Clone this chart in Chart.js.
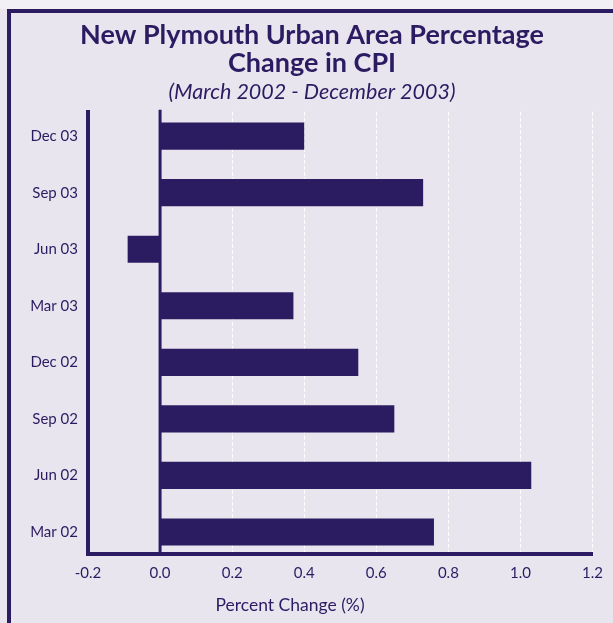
<!DOCTYPE html>
<html>
<head>
<meta charset="utf-8">
<script src="https://cdn.jsdelivr.net/npm/chart.js@4.4.0/dist/chart.umd.min.js"></script>
<style>
  html, body { margin: 0; padding: 0; }
  body { width: 613px; height: 623px; background: #e9e5ef; position: relative; overflow: hidden; }
  #strip { position: absolute; left: 0; top: 0; width: 613px; height: 9px; background: #f2f0f4; }
  #frame {
    position: absolute; left: 7px; top: 9px; width: 606px; height: 614px;
    box-sizing: border-box; border-top: 4px solid #2b1c62; border-left: 4px solid #2b1c62;
    background: #e9e5ef;
  }
  #cpi { display: block; }
</style>
</head>
<body>
<div id="strip"></div>
<div id="frame">
  <canvas id="cpi" width="602" height="610"></canvas>
</div>
<script>
// quarters, oldest first (Mar 02 sits at the bottom of the axis)
var quarters = ['Mar 02', 'Jun 02', 'Sep 02', 'Dec 02', 'Mar 03', 'Jun 03', 'Sep 03', 'Dec 03'];
var cpiChange = [0.76, 1.03, 0.65, 0.55, 0.37, -0.09, 0.73, 0.40];
var xTicks = [-0.2, 0.0, 0.2, 0.4, 0.6, 0.8, 1.0, 1.2];

var purple = '#2b1c62';
var font = 'Lato, "Open Sans", sans-serif';

// solid line at zero plus the axis caption
var zeroLine = {
    id: 'zeroLine',
    afterDatasetsDraw: function (chart) {
        var ctx = chart.ctx;
        var area = chart.chartArea;
        var x = chart.scales.x.getPixelForValue(0);
        ctx.save();
        ctx.strokeStyle = purple;
        ctx.lineWidth = 3;
        ctx.beginPath();
        ctx.moveTo(x, area.top - 2);
        ctx.lineTo(x, area.bottom);
        ctx.stroke();

        ctx.fillStyle = purple;
        ctx.font = '17.5px ' + font;
        ctx.textAlign = 'center';
        ctx.textBaseline = 'middle';
        ctx.fillText('Percent Change (%)', area.left + 202, area.bottom + 51);
        ctx.restore();
    }
};

var ctx = document.getElementById('cpi').getContext('2d');
var cpiChart = new Chart(ctx, {
    type: 'bar',
    data: {
        datasets: [{
            label: 'CPI change',
            data: cpiChange.map(function (v, i) { return { x: v, y: i }; }),
            backgroundColor: purple,
            borderWidth: 0,
            barPercentage: 0.48,
            categoryPercentage: 1
        }]
    },
    options: {
        indexAxis: 'y',
        responsive: false,
        animation: false,
        layout: { padding: 0 },
        plugins: {
            legend: { display: false },
            tooltip: { enabled: false },
            title: {
                display: true,
                text: ['New Plymouth Urban Area Percentage', 'Change in CPI'],
                color: purple,
                font: { family: font, size: 27, weight: 'bold', lineHeight: 28 / 27 },
                padding: { top: 8, bottom: 0 }
            },
            subtitle: {
                display: true,
                text: '(March 2002 - December 2003)',
                color: purple,
                font: { family: font, size: 21.5, style: 'italic', lineHeight: 1.2 },
                padding: { top: 2, bottom: 7 }
            }
        },
        scales: {
            x: {
                type: 'linear',
                min: -0.2,
                max: 1.2,
                afterFit: function (s) { s.height = 69; },
                afterBuildTicks: function (s) {
                    s.ticks = xTicks.map(function (v) { return { value: v }; });
                },
                ticks: {
                    color: purple,
                    font: { family: font, size: 15 },
                    padding: 10,
                    callback: function (v) { return Number(v).toFixed(1); }
                },
                grid: {
                    drawTicks: false,
                    lineWidth: 1,
                    color: function (c) {
                        var v = c.tick ? c.tick.value : 0;
                        return v > 0.01 ? 'rgba(255,255,255,0.95)' : 'rgba(0,0,0,0)';
                    }
                },
                border: { display: true, width: 4, color: purple, dash: [4, 2] }
            },
            y: {
                type: 'linear',
                offset: false,
                min: -0.39,
                max: 7.43,
                afterFit: function (s) { s.width = 77; },
                afterBuildTicks: function (s) {
                    s.ticks = quarters.map(function (q, i) { return { value: i }; });
                },
                ticks: {
                    color: purple,
                    font: { family: font, size: 15 },
                    padding: 10,
                    callback: function (v) { return quarters[v]; }
                },
                grid: { display: false, drawTicks: false },
                border: { display: true, width: 4, color: purple }
            },
            // empty right-hand strip so the plot stops short of the frame edge
            gutter: {
                type: 'linear',
                axis: 'y',
                position: 'right',
                display: true,
                afterFit: function (s) { s.width = 17; },
                ticks: { display: false },
                grid: { display: false, drawTicks: false },
                border: { display: false }
            }
        }
    },
    plugins: [zeroLine]
});
</script>
</body>
</html>
